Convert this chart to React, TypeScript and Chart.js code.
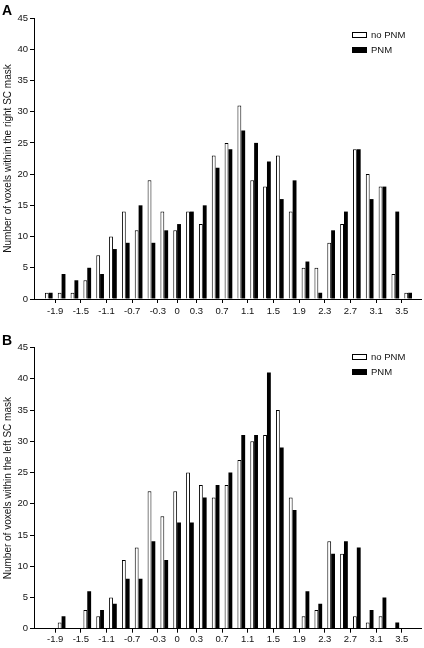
import React, { useEffect, useRef } from "react";
import { Chart, registerables } from "chart.js";

Chart.register(...registerables);

// Histogram bin centres (x values) shared by both panels
const binCenters = [
  -2.0, -1.8, -1.6, -1.4, -1.2, -1.0, -0.8, -0.6, -0.4, -0.2, 0.0, 0.2, 0.4, 0.6, 0.8,
  1.0, 1.2, 1.4, 1.6, 1.8, 2.0, 2.2, 2.4, 2.6, 2.8, 3.0, 3.2, 3.4, 3.6,
];

// Axis tick values and labels
const tickValues = [-1.9, -1.5, -1.1, -0.7, -0.3, 0, 0.3, 0.7, 1.1, 1.5, 1.9, 2.3, 2.7, 3.1, 3.5];
const tickLabels = ["-1.9", "-1.5", "-1.1", "-0.7", "-0.3", "0", "0.3", "0.7", "1.1", "1.5", "1.9", "2.3", "2.7", "3.1", "3.5"];
const yTicks = [0, 5, 10, 15, 20, 25, 30, 35, 40, 45];

// Panel A: right SC mask
const rightNoPNM = [1, 1, 1, 3, 7, 10, 14, 11, 19, 14, 11, 14, 12, 23, 25, 31, 19, 18, 23, 14, 5, 5, 9, 12, 24, 20, 18, 4, 1];
const rightPNM = [1, 4, 3, 5, 4, 8, 9, 15, 9, 11, 12, 14, 15, 21, 24, 27, 25, 22, 16, 19, 6, 1, 11, 14, 24, 16, 18, 14, 1];

// Panel B: left SC mask
const leftNoPNM = [0, 1, 0, 3, 2, 5, 11, 13, 22, 18, 22, 25, 23, 21, 23, 27, 30, 31, 35, 21, 2, 3, 14, 12, 2, 1, 2, 0, 0];
const leftPNM = [0, 2, 0, 6, 3, 4, 8, 8, 14, 11, 17, 17, 21, 23, 25, 31, 31, 41, 29, 19, 6, 4, 12, 14, 13, 3, 5, 1, 0];

const seriesLabels = ["no PNM", "PNM"];

const FONT = "'Liberation Sans', Arial, Helvetica, sans-serif";

const boxLegend = {
  id: "boxLegend",
  afterDraw(chart: any, _args: any, opts: any) {
    const { ctx } = chart;
    ctx.save();
    chart.data.datasets.forEach((ds: any, i: number) => {
      const x = opts.x;
      const y = opts.y + i * opts.gap;
      ctx.fillStyle = ds.backgroundColor;
      ctx.fillRect(x, y, 15, 6);
      ctx.strokeStyle = "#000";
      ctx.lineWidth = 1;
      ctx.strokeRect(x + 0.5, y + 0.5, 14, 5);
      ctx.fillStyle = "#111";
      ctx.font = `9.5px ${FONT}`;
      ctx.textBaseline = "middle";
      ctx.textAlign = "left";
      ctx.fillText(ds.label, x + 19, y + 3.5);
    });
    ctx.restore();
  },
};

type PanelProps = {
  noPNM: number[];
  pnm: number[];
  yTitle: string;
  chartTop: number;
  xHeight: number;
  tickPad: number;
  legendY: number;
};

function Panel({ noPNM, pnm, yTitle, chartTop, xHeight, tickPad, legendY }: PanelProps) {
  const ref = useRef<HTMLCanvasElement>(null);
  useEffect(() => {
    const chart = new Chart(ref.current as HTMLCanvasElement, {
      type: "bar",
      data: {
        datasets: [
          {
            label: seriesLabels[0],
            data: binCenters.map((x, i) => ({ x, y: noPNM[i] })),
            backgroundColor: "#ffffff",
            borderColor: "#000000",
            borderWidth: 1,
            categoryPercentage: 0.6,
            barPercentage: 1,
          },
          {
            label: seriesLabels[1],
            data: binCenters.map((x, i) => ({ x, y: pnm[i] })),
            backgroundColor: "#000000",
            borderColor: "#000000",
            borderWidth: 0,
            categoryPercentage: 0.6,
            barPercentage: 1,
          },
        ],
      } as any,
      options: {
        animation: false,
        responsive: false,
        maintainAspectRatio: false,
        layout: { padding: { left: 0, right: 3, top: chartTop, bottom: 0 } },
        plugins: {
          legend: { display: false },
          tooltip: { enabled: false },
          boxLegend: { x: 352, y: legendY, gap: 15 },
        } as any,
        scales: {
          x: {
            type: "linear",
            min: -2.23,
            max: 3.8,
            offset: false,
            afterBuildTicks: (s: any) => {
              s.ticks = tickValues.map((v) => ({ value: v }));
            },
            afterFit: (s: any) => {
              s.height = xHeight;
            },
            ticks: {
              autoSkip: false,
              maxRotation: 0,
              minRotation: 0,
              padding: tickPad,
              color: "#111",
              font: { size: 9.5, family: FONT },
              callback: (_v: any, i: number) => tickLabels[i],
            },
            grid: { drawOnChartArea: false, drawTicks: true, tickLength: 4, color: "#000", offset: false },
            border: { color: "#000", width: 1 },
          },
          y: {
            min: 0,
            max: 45,
            afterBuildTicks: (s: any) => {
              s.ticks = yTicks.map((v) => ({ value: v }));
            },
            afterFit: (s: any) => {
              s.width = 34;
            },
            ticks: {
              padding: 2,
              color: "#111",
              font: { size: 9.5, family: FONT },
            },
            grid: { drawOnChartArea: false, drawTicks: true, tickLength: 4, color: "#000" },
            border: { color: "#000", width: 1 },
            title: {
              display: true,
              text: yTitle,
              color: "#111",
              font: { size: 10, family: FONT },
              padding: { top: 2, bottom: 0 },
            },
          },
        },
      } as any,
      plugins: [boxLegend as any],
    });
    return () => chart.destroy();
  }, []);
  return (
    <canvas
      ref={ref}
      width={424}
      height={324}
      style={{ display: "block", width: 424, height: 324 }}
    />
  );
}

const letterStyle: React.CSSProperties = {
  position: "absolute",
  left: 2,
  fontFamily: FONT,
  fontWeight: "bold",
  fontSize: 14,
  lineHeight: "14px",
  color: "#000",
};

export default function App() {
  return (
    <div style={{ position: "absolute", left: 0, top: 0, width: 424, height: 648, background: "#fff" }}>
      <Panel
        noPNM={rightNoPNM}
        pnm={rightPNM}
        yTitle="Number of voxels within the right SC mask"
        chartTop={18}
        xHeight={25}
        tickPad={3}
        legendY={32}
      />
      <Panel
        noPNM={leftNoPNM}
        pnm={leftPNM}
        yTitle="Number of voxels within the left SC mask"
        chartTop={23.6}
        xHeight={19.3}
        tickPad={1}
        legendY={30}
      />
      <div style={{ ...letterStyle, top: 3 }}>A</div>
      <div style={{ ...letterStyle, top: 333 }}>B</div>
    </div>
  );
}
